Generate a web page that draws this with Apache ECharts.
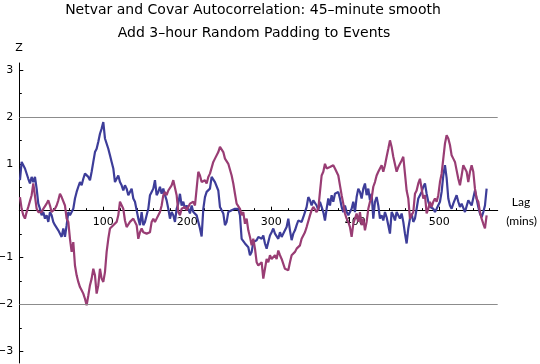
<!DOCTYPE html>
<html><head><meta charset="utf-8">
<script src="https://cdn.jsdelivr.net/npm/echarts@6/dist/echarts.min.js"></script>
<style>html,body{margin:0;padding:0;background:#fff}#c{width:540px;height:364px}</style>
</head><body><div id="c"></div>
<script>
const titleLines = ['Netvar and Covar Autocorrelation: 45\u2013minute smooth', 'Add 3\u2013hour Random Padding to Events'];
const yAxisName = 'Z';
const xAxisName = ['Lag', '(mins)'];
const lagStart = 0.8, lagStep = 1.984;
const netvarZ = [
 0.65,1.04,0.97,0.90,0.86,0.68,0.58,0.72,0.61,0.72,0.47,0.15,0.04,-0.10,-0.03,-0.17,-0.10,-0.24,-0.03,-0.10,-0.24,-0.31,-0.35,-0.42,-0.46,-0.56,-0.38,-0.56,-0.31,-0.03,-0.10,-0.03,0.04,
 0.26,0.40,0.51,0.61,0.54,0.68,0.79,0.75,0.72,0.65,0.83,1.04,1.25,1.32,1.47,1.64,1.75,1.89,1.54,1.54,1.32,1.18,1.04,0.90,0.61,0.68,0.75,0.61,0.54,0.43,0.54,0.47,0.33,0.40,0.47,0.26,
 0.19,0.15,-0.17,-0.31,-0.03,-0.31,-0.24,-0.10,0.04,0.33,0.40,0.47,0.65,0.33,0.40,0.51,0.36,0.47,0.33,0.22,0.04,-0.17,-0.03,-0.10,-0.24,0.04,0.15,0.36,0.11,0.19,0.04,0.11,0.04,-0.06,0.11,-0.03,
 -0.03,-0.10,-0.06,-0.38,-0.55,0.04,0.29,0.40,0.43,0.47,0.72,0.75,0.61,0.58,0.43,0.08,0.01,-0.06,-0.31,-0.24,-0.03,-0.06,0.01,-0.03,0.04,0.01,0.04,-0.10,-0.60,-0.63,-0.70,-0.74,-0.78,-0.95,-0.88,-0.67,
 -0.67,-0.63,-0.56,-0.60,-0.60,-0.53,-0.70,-0.81,-0.67,-0.53,-0.46,-0.38,-0.49,-0.46,-0.60,-0.46,-0.56,-0.53,-0.42,-0.35,-0.17,-0.42,-0.63,-0.49,-0.42,-0.31,-0.21,-0.17,-0.24,-0.14,-0.03,0.08,0.29,0.22,0.11,0.22,
 0.19,0.11,0.01,0.19,0.08,-0.03,-0.21,0.04,0.26,0.11,0.33,0.19,0.36,0.40,0.40,0.26,0.08,-0.03,0.11,-0.03,-0.10,-0.06,0.04,0.19,-0.03,0.29,0.47,0.40,0.26,0.47,0.58,0.33,0.47,0.22,0.36,-0.17,
 0.19,0.29,0.11,-0.17,-0.10,-0.21,-0.03,-0.14,-0.31,-0.49,-0.03,-0.10,-0.21,-0.03,-0.06,-0.17,-0.06,-0.24,-0.49,-0.70,-0.38,-0.17,-0.06,-0.24,-0.17,0.04,0.26,0.33,0.40,0.51,0.58,0.36,0.19,0.08,0.04,0.04,
 -0.03,0.04,0.08,0.19,0.40,0.75,0.97,0.70,0.26,0.11,0.04,0.15,0.11,0.33,0.19,0.08,0.15,0.19,-0.03,-0.03,0.22,0.19,0.11,0.11,0.43,0.40,0.08,-0.06,-0.14,-0.03,0.11,0.47
];
const covarZ = [
 0.29,0.04,-0.10,-0.17,-0.03,0.08,0.11,0.33,0.58,0.54,0.04,-0.03,0.01,-0.03,0.04,0.04,0.15,0.22,0.11,-0.03,0.01,0.04,0.11,0.22,0.36,0.29,0.26,0.11,-0.17,-0.24,-0.60,-0.88,-0.67,
 -1.17,-1.38,-1.52,-1.63,-1.70,-1.77,-1.88,-2.02,-1.81,-1.59,-1.45,-1.24,-1.38,-1.77,-1.59,-1.24,-1.45,-1.52,-1.31,-0.88,-0.60,-0.38,-0.38,-0.31,-0.35,-0.24,-0.10,0.19,0.22,0.04,-0.21,-0.35,-0.31,-0.24,-0.21,-0.17,
 -0.17,-0.31,-0.60,-0.46,-0.38,-0.46,-0.42,-0.49,-0.53,-0.46,-0.24,-0.17,-0.24,-0.17,-0.17,-0.03,0.11,0.33,0.40,0.33,0.43,0.47,0.54,0.65,0.68,0.33,-0.03,-0.10,0.04,0.04,0.08,0.01,0.08,0.15,0.11,0.19,
 0.11,0.47,0.83,0.75,0.61,0.61,0.65,0.58,0.72,0.79,0.83,1.04,1.11,1.07,1.25,1.36,1.32,1.25,1.11,1.15,1.00,0.97,0.75,0.58,0.36,0.15,0.19,0.04,-0.10,-0.03,-0.28,-0.17,-0.42,-0.56,-0.74,-0.60,
 -0.81,-1.10,-1.17,-1.13,-1.10,-1.45,-1.24,-1.03,-1.10,-0.95,-1.03,-1.06,-0.95,-1.03,-0.85,-0.95,-1.03,-1.06,-1.24,-1.27,-1.27,-1.10,-0.95,-0.92,-0.88,-0.81,-0.78,-0.74,-0.60,-0.60,-0.46,-0.35,-0.31,-0.10,0.01,0.08,
 0.04,-0.03,0.04,0.40,0.75,0.83,1.00,0.90,0.86,0.93,0.90,0.97,0.90,0.93,0.75,0.54,0.33,0.15,-0.06,-0.17,-0.24,-0.35,-0.56,-0.28,-0.24,-0.06,-0.24,-0.03,-0.31,-0.17,-0.42,-0.24,0.04,0.19,0.26,0.51,
 0.61,0.75,0.83,0.86,0.97,0.83,0.97,1.15,1.32,1.50,1.36,1.15,1.11,0.83,0.93,0.93,1.07,1.15,0.79,0.43,0.26,-0.17,-0.17,-0.03,0.36,0.43,0.58,0.68,0.47,0.26,0.33,-0.06,0.04,0.19,0.08,0.19,
 0.26,0.19,0.33,0.61,0.79,1.11,1.43,1.61,1.54,1.40,1.18,1.11,1.04,0.86,0.68,0.54,0.75,0.97,0.90,0.83,0.61,0.83,0.97,0.83,0.47,0.26,0.19,-0.03,-0.17,-0.28,-0.38,-0.10
];
const xMajorTicks = [0,100,200,300,400,500];
const xLabelValues = [100,200,300,400,500];
const xMinorTicks = [20,40,60,80,120,140,160,180,220,240,260,280,320,340,360,380,420,440,460,480,520,540,560];
const yMajorTicks = [-3,-2,-1,0,1,2,3];
const yLabelValues = [-3,-2,-1,1,2,3];
const yMinorTicks = [-2.5,-1.5,-0.5,0.5,1.5,2.5];
const refLines = [2,-2];

const FONT = 'DejaVu Sans';
const GRID = {left: 19.3, right: 42.3, top: 63, bottom: 1};
const toPairs = arr => arr.map((v, i) => [lagStart + i * lagStep, v]);
const chart = echarts.init(document.getElementById('c'), null, {renderer: 'canvas'});
const xBase = {type: 'value', min: 0, max: 569.5, position: 'bottom', splitLine: {show: false}};
const yBase = {type: 'value', min: -3.25, max: 3.15, position: 'left', splitLine: {show: false}};
chart.setOption({
  animation: false,
  backgroundColor: '#fff',
  grid: Object.assign({containLabel: false, outerBoundsMode: 'none'}, GRID),
  xAxis: [
    Object.assign({}, xBase, {
      axisLine: {show: true, onZero: false, lineStyle: {color: '#000', width: 1}},
      axisTick: {show: true, inside: true, length: 4, customValues: xMajorTicks, lineStyle: {color: '#000'}},
      axisLabel: {show: true, margin: 6, customValues: xLabelValues, color: '#000', fontFamily: FONT, fontSize: 11}
    }),
    Object.assign({}, xBase, {
      axisLine: {show: false, onZero: false},
      axisTick: {show: true, inside: true, length: 2.5, customValues: xMinorTicks, lineStyle: {color: '#000'}},
      axisLabel: {show: false}
    })
  ],
  yAxis: [
    Object.assign({}, yBase, {
      axisLine: {show: true, onZero: false, lineStyle: {color: '#000', width: 1}},
      axisTick: {show: true, inside: true, length: 4, customValues: yMajorTicks, lineStyle: {color: '#000'}},
      axisLabel: {show: true, margin: 6, customValues: yLabelValues, color: '#000', fontFamily: FONT, fontSize: 11,
        formatter: v => (v < 0 ? '\u2212' + Math.abs(v) : String(v))}
    }),
    Object.assign({}, yBase, {
      axisLine: {show: false, onZero: false},
      axisTick: {show: true, inside: true, length: 2.5, customValues: yMinorTicks, lineStyle: {color: '#000'}},
      axisLabel: {show: false}
    })
  ],
  series: [
    {type: 'line', name: 'Netvar', xAxisIndex: 0, yAxisIndex: 0, data: toPairs(netvarZ), showSymbol: false, symbol: 'none',
     lineStyle: {color: '#3d3d99', width: 2.2}, z: 3,
     markLine: {silent: true, symbol: ['none', 'none'], label: {show: false},
       lineStyle: {color: '#8c8c8c', width: 1, type: 'solid'},
       data: refLines.map(v => ({yAxis: v}))}},
    {type: 'line', name: 'Covar', xAxisIndex: 0, yAxisIndex: 0, data: toPairs(covarZ), showSymbol: false, symbol: 'none',
     lineStyle: {color: '#993d74', width: 2.2}, z: 4}
  ],
  graphic: [
    {type: 'text', x: 253, y: 10.5, style: {text: titleLines[0], fontFamily: FONT, fontSize: 14, fill: '#000', align: 'center', verticalAlign: 'middle'}},
    {type: 'text', x: 254, y: 33, style: {text: titleLines[1], fontFamily: FONT, fontSize: 14, fill: '#000', align: 'center', verticalAlign: 'middle'}},
    {type: 'text', x: 19, y: 48, style: {text: yAxisName, fontFamily: FONT, fontSize: 11, fill: '#000', align: 'center', verticalAlign: 'middle'}},
    {type: 'text', x: 521, y: 202.5, style: {text: xAxisName[0], fontFamily: 'Lato', fontSize: 12, fill: '#000', align: 'center', verticalAlign: 'middle'}},
    {type: 'text', x: 521.5, y: 221, style: {text: xAxisName[1], fontFamily: 'Lato', fontSize: 12, fill: '#000', align: 'center', verticalAlign: 'middle'}}
  ]
});
// Move the x axes up to the y = 0 line, using the library's own y scale.
const zeroPx = chart.convertToPixel({yAxisIndex: 0}, 0);
const bottomPx = 364 - GRID.bottom;
const off = zeroPx - bottomPx;
chart.setOption({xAxis: [{offset: off}, {offset: off}]});
</script></body></html>
